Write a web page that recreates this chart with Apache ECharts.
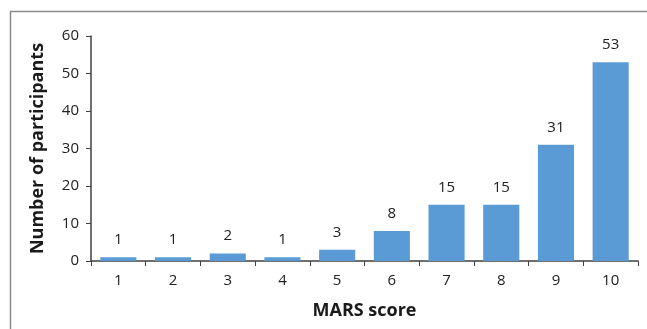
<!DOCTYPE html>
<html>
<head>
<meta charset="utf-8">
<script src="https://cdn.jsdelivr.net/npm/echarts@6/dist/echarts.min.js"></script>
<style>
  html, body { margin: 0; padding: 0; background: #fff; }
  #chart { width: 647px; height: 329px; }
</style>
</head>
<body>
<div id="chart"></div>
<script>
  const categories = ['1', '2', '3', '4', '5', '6', '7', '8', '9', '10']
  const participants = [1, 1, 2, 1, 3, 8, 15, 15, 31, 53]
  const yTicks = { min: 0, max: 60, interval: 10 }

  const font = "'Open Sans', 'Noto Sans', sans-serif"
  const mychart = echarts.init(document.getElementById('chart'))
  mychart.setOption({
    animation: false,
    grid: { left: 91, right: 9, top: 36, bottom: 68 },
    // frame around the chart, cut off at right and bottom like the source
    graphic: [{
      type: 'rect',
      shape: { x: 10.5, y: 11.5, width: 700, height: 400 },
      style: { fill: 'none', stroke: '#8c8c8c', lineWidth: 1.5 },
      silent: true
    }],
    xAxis: {
      type: 'category',
      data: categories,
      name: 'MARS score',
      nameLocation: 'middle',
      nameGap: 41,
      nameTextStyle: { fontFamily: font, fontWeight: 'bold', fontSize: 18, color: '#1a1a1a' },
      axisLine: { lineStyle: { color: '#404040', width: 1.5 } },
      axisTick: { show: true, alignWithLabel: false, length: 5, lineStyle: { color: '#404040' } },
      axisLabel: { fontFamily: font, fontSize: 15, color: '#222', margin: 12 }
    },
    yAxis: {
      type: 'value',
      min: yTicks.min,
      max: yTicks.max,
      interval: yTicks.interval,
      name: 'Number of participants',
      nameLocation: 'middle',
      nameGap: 44,
      nameTextStyle: { fontFamily: font, fontWeight: 'bold', fontSize: 18, color: '#1a1a1a' },
      axisLine: { show: true, lineStyle: { color: '#404040', width: 1.5 } },
      axisTick: { show: true, length: 5, lineStyle: { color: '#404040' } },
      axisLabel: { fontFamily: font, fontSize: 15, color: '#222', margin: 12 },
      splitLine: { show: false }
    },
    series: [{
      type: 'bar',
      data: participants,
      barWidth: '66%',
      itemStyle: { color: '#5b9bd5' },
      label: {
        show: true,
        position: 'top',
        distance: 10,
        fontFamily: font,
        fontSize: 15,
        color: '#222'
      }
    }]
  })
</script>
</body>
</html>
